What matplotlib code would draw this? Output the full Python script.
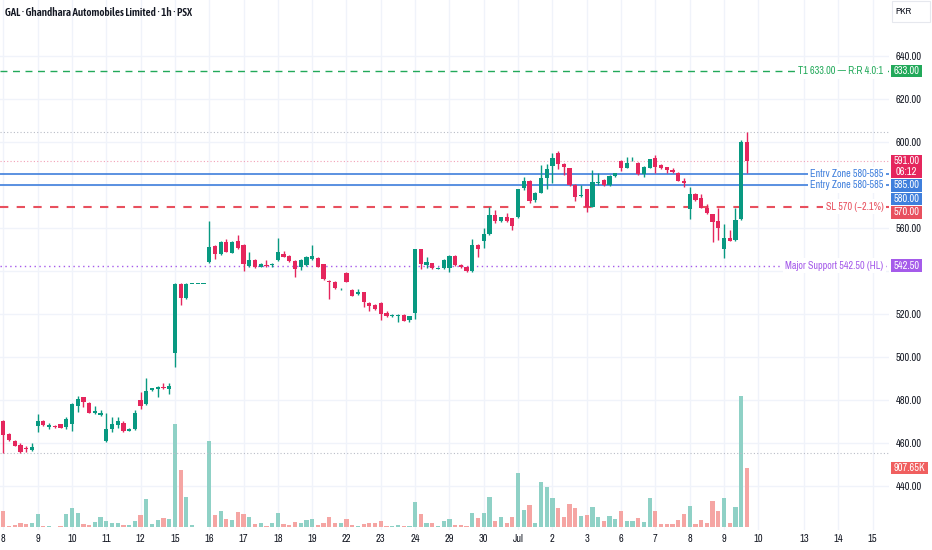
import numpy as np
import matplotlib.pyplot as plt
from matplotlib import transforms
from matplotlib.patches import Rectangle

plt.rcParams['font.family'] = ['Archivo Narrow', 'Liberation Sans Narrow', 'Liberation Sans', 'DejaVu Sans']

W, H = 932, 550

title = "GAL · Ghandhara Automobiles Limited · 1h · PSX"

# trading days shown (6 hourly bars each), plus future dates on the time scale
day_labels = ["8", "9", "10", "11", "12", "15", "16", "17", "18", "19", "22", "23",
              "24", "29", "30", "Jul", "2", "3", "6", "7", "8", "9"]
future_labels = ["10", "13", "14", "15"]
future_pos = [132, 140, 146, 152]
bars_per_day = 6

opens = [
    470.0, 464.0, 461.1, 459.0, 457.5, 456.7,
    468.0, 470.0, 467.5, 468.0, 468.8, 467.5,
    469.0, 477.2, 481.2, 478.8, 474.1, 473.0,
    460.9, 466.5, 468.5, 469.5, 465.8, 466.4,
    480.0, 478.0, 484.5, 485.0, 486.2, 485.2,
    501.7, 534.0, 527.3, 534.0, 534.0, 534.0,
    544.0, 551.8, 547.8, 553.6, 548.5, 554.0,
    552.1, 542.5, 545.1, 542.0, 543.0, 542.7,
    545.1, 547.8, 547.1, 544.7, 542.0, 542.8,
    545.6, 546.2, 543.1, 535.5, 535.0, 531.4,
    539.2, 531.2, 529.2, 530.1, 525.2, 524.2,
    525.2, 520.3, 519.0, 519.0, 519.5, 517.2,
    520.3, 550.1, 542.8, 543.6, 541.0, 541.3,
    541.6, 547.0, 542.8, 542.0, 540.0, 552.1,
    554.1, 557.1, 566.0, 563.3, 565.0, 564.5,
    565.0, 578.5, 582.0, 573.0, 576.4, 583.1,
    588.8, 595.0, 589.8, 587.8, 580.0, 575.0,
    578.0, 570.0, 581.0, 582.3, 580.0, 584.2,
    591.2, 588.0, 591.4, 590.4, 585.0, 588.0,
    592.4, 589.3, 588.2, 587.0, 585.7, 581.9,
    568.8, 575.8, 574.1, 569.4, 566.4, 563.3,
    550.1, 555.2, 554.4, 564.0, 600.1,
]
highs = [
    470.5, 464.5, 461.5, 460.0, 458.5, 460.0,
    473.3, 470.5, 469.5, 468.5, 469.0, 472.3,
    478.5, 481.9, 481.5, 479.0, 477.4, 475.3,
    474.1, 472.3, 472.3, 470.0, 466.8, 475.3,
    483.9, 490.2, 485.8, 486.5, 487.8, 487.8,
    534.5, 534.2, 534.2, 534.0, 534.0, 534.0,
    563.3, 552.2, 553.8, 554.9, 554.0, 556.7,
    552.5, 548.7, 545.5, 543.5, 545.0, 543.8,
    555.2, 549.5, 547.4, 545.0, 545.4, 546.8,
    552.1, 546.5, 543.4, 536.0, 535.3, 532.3,
    539.5, 531.5, 531.5, 530.4, 525.5, 524.5,
    525.5, 521.5, 519.8, 519.8, 519.8, 519.3,
    550.4, 550.4, 546.6, 543.9, 541.8, 545.4,
    547.4, 547.3, 543.1, 542.3, 554.7, 552.4,
    559.9, 569.9, 568.6, 565.3, 567.2, 564.8,
    578.3, 583.6, 582.3, 576.9, 589.3, 589.8,
    595.0, 596.0, 590.1, 588.1, 580.3, 580.0,
    578.3, 587.0, 585.4, 582.6, 584.6, 585.7,
    591.5, 593.2, 593.2, 590.7, 588.8, 592.3,
    594.0, 589.6, 588.5, 588.0, 586.0, 583.1,
    579.2, 576.1, 576.0, 571.0, 566.7, 569.2,
    561.7, 559.1, 569.2, 600.9, 604.5,
]
lows = [
    455.5, 461.0, 458.5, 455.5, 456.0, 456.5,
    465.1, 467.8, 466.5, 466.8, 466.8, 466.4,
    465.4, 474.6, 476.9, 473.8, 473.6, 472.5,
    460.5, 465.3, 467.0, 465.3, 465.5, 466.0,
    475.7, 477.5, 484.2, 481.3, 485.3, 482.8,
    495.5, 524.2, 527.0, 534.0, 534.0, 534.0,
    543.5, 545.6, 547.5, 548.7, 548.2, 550.3,
    540.1, 542.0, 541.6, 541.7, 542.0, 542.0,
    544.8, 546.3, 544.4, 537.3, 540.5, 542.5,
    545.3, 541.7, 536.0, 526.8, 531.7, 531.0,
    534.7, 528.2, 529.0, 523.4, 521.4, 522.0,
    517.2, 518.8, 518.7, 516.4, 516.6, 516.3,
    517.5, 541.0, 541.3, 541.0, 540.7, 541.0,
    539.7, 542.5, 541.4, 539.7, 539.7, 546.6,
    550.6, 556.8, 562.5, 563.0, 563.0, 559.1,
    564.7, 577.8, 571.5, 571.9, 576.1, 578.0,
    580.8, 587.3, 584.7, 579.7, 572.7, 574.4,
    567.3, 569.7, 580.0, 579.7, 579.7, 583.9,
    586.5, 587.7, 591.0, 584.7, 583.9, 587.7,
    585.4, 587.5, 585.5, 585.6, 581.7, 579.2,
    564.2, 572.7, 569.1, 566.5, 553.3, 554.4,
    545.9, 553.8, 554.1, 563.7, 585.4,
]
closes = [
    463.7, 461.5, 458.7, 456.0, 457.3, 458.3,
    470.0, 468.5, 468.5, 467.3, 467.0, 471.2,
    478.0, 480.3, 479.2, 474.1, 475.0, 473.8,
    466.4, 468.8, 470.0, 465.6, 466.5, 474.1,
    477.2, 484.2, 485.5, 486.2, 485.8, 486.5,
    534.0, 527.3, 534.0, 534.0, 534.0, 534.0,
    551.3, 547.8, 553.3, 549.0, 553.6, 550.6,
    543.1, 545.1, 542.0, 543.1, 542.3, 543.0,
    548.7, 546.7, 544.7, 540.9, 545.1, 546.4,
    547.0, 542.0, 536.3, 535.0, 532.0, 531.8,
    535.0, 528.5, 530.1, 525.7, 523.9, 522.3,
    519.9, 519.0, 519.5, 519.5, 516.9, 519.0,
    550.1, 543.3, 544.3, 541.3, 541.5, 545.1,
    547.1, 542.8, 541.7, 540.0, 552.1, 550.1,
    557.1, 566.0, 563.3, 565.0, 563.3, 560.9,
    578.0, 582.0, 572.6, 576.1, 583.1, 587.3,
    592.4, 589.8, 588.2, 580.0, 574.6, 575.5,
    570.0, 581.3, 581.6, 580.0, 584.3, 585.4,
    587.8, 590.4, 591.8, 585.0, 588.5, 592.0,
    588.5, 587.8, 587.0, 585.9, 582.0, 581.1,
    575.8, 573.0, 569.4, 566.8, 562.9, 559.9,
    555.2, 554.1, 563.7, 600.1, 591.0,
]
# volume in thousands of shares
volume_k = [
    251, 20, 31, 57, 46, 66,
    205, 20, 11, 5, 20, 205,
    297, 220, 46, 31, 77, 149,
    97, 66, 66, 31, 31, 97,
    185, 426, 46, 108, 138, 128,
    1584, 877, 457, 31, 5, 5,
    1323, 185, 251, 128, 108, 235,
    195, 158, 46, 66, 20, 66,
    215, 46, 31, 77, 66, 108,
    128, 31, 66, 149, 57, 57,
    118, 31, 20, 46, 66, 57,
    97, 20, 11, 31, 11, 20,
    389, 195, 66, 66, 20, 97,
    128, 31, 31, 20, 215, 138,
    215, 466, 97, 149, 66, 158,
    826, 257, 338, 62, 687, 611,
    446, 292, 158, 354, 292, 174,
    185, 303, 158, 88, 174, 123,
    251, 97, 97, 138, 77, 446,
    251, 46, 46, 46, 108, 195,
    323, 46, 108, 66, 395, 251,
    446, 66, 312, 2015, 907.65,
]

# trade plan levels
t1_price = 633.0
entry_zone = [585.0, 580.0]
stop_price = 570.0
support_price = 542.5
countdown = "06:12"

# colours
UP = "#089981"
DOWN = "#e5265d"
VOL_UP = "#8fd1c6"
VOL_DOWN = "#f5a5a3"
GREEN = "#22a95a"
BLUE = "#3f7fdc"
RED = "#e8505e"
PURPLE = "#a55bea"
GRID = "#f0f3fa"
TXT = "#131722"
FS = 7.5

o = np.array(opens)
c = np.array(closes)
x = np.arange(len(o))
up = c >= o
cand_col = np.where(up, UP, DOWN)
vol_col = np.where(up, VOL_UP, VOL_DOWN)

fig = plt.figure(figsize=(W / 100, H / 100), dpi=100)
ax = fig.add_axes([0, 20 / H, 889 / W, 530 / H])
vax = ax.twinx()
ax.set_zorder(vax.get_zorder() + 1)
ax.patch.set_visible(False)

ax.set_xlim(-0.58, 154.85)
ax.set_ylim(419.53, 666.05)
vax.set_ylim(-46, 8105)

# grid (drawn on the lower axes so it stays behind the volume)
day_pos = [i * bars_per_day for i in range(len(day_labels))] + future_pos
grid_prices = np.arange(440, 641, 20)
price_tr = transforms.blended_transform_factory(vax.transAxes, ax.transData)
for gx in day_pos:
    vax.axvline(gx, color=GRID, lw=1, zorder=0)
for gp in grid_prices:
    vax.plot([0, 1], [gp, gp], color=GRID, lw=1, transform=price_tr, zorder=0)

# volume
vax.bar(x, volume_k, width=0.74, color=vol_col, zorder=2)

# candles
body_lo = np.minimum(o, c)
body_h = np.maximum(np.abs(c - o), 0.45)
ax.vlines(x, lows, highs, colors=cand_col, lw=1, zorder=3)
ax.bar(x, body_h, bottom=body_lo, width=0.74, color=cand_col, lw=0, zorder=4)

# range high / low and last price
ax.axhline(max(highs), color="#b8bcc6", lw=0.8, ls=(0, (1, 2)), zorder=1)
ax.axhline(min(lows), color="#b8bcc6", lw=0.8, ls=(0, (1, 2)), zorder=1)
ax.axhline(closes[-1], color="#f3a0b6", lw=0.8, ls=(0, (1, 2)), zorder=1)

# trade plan lines
entry_mid = np.mean(entry_zone)
rr = (t1_price - entry_mid) / (entry_mid - stop_price)
sl_pct = (stop_price / entry_mid - 1) * 100
ax.axhline(t1_price, color=GREEN, lw=1, ls=(0, (5, 4)), zorder=2)
for e in entry_zone:
    ax.axhline(e, color=BLUE, lw=1.2, zorder=2)
ax.axhline(stop_price, color=RED, lw=1.5, ls=(0, (4, 4)), zorder=2)
ax.axhline(support_price, color=PURPLE, lw=1, ls=(0, (1, 2.5)), zorder=2)

line_texts = [
    (t1_price, f"T1 {t1_price:.2f} — R:R {rr:.1f}:1", GREEN),
    (entry_zone[0], f"Entry Zone {entry_zone[1]:.0f}-{entry_zone[0]:.0f}", BLUE),
    (entry_zone[1], f"Entry Zone {entry_zone[1]:.0f}-{entry_zone[0]:.0f}", BLUE),
    (stop_price, f"SL {stop_price:.0f} ({sl_pct:.1f}%)".replace("-", "−"), RED),
    (support_price, f"Major Support {support_price:.2f} (HL)", PURPLE),
]
for p, s, col in line_texts:
    ax.annotate(s, xy=(1, p), xycoords=price_tr, xytext=(-4, 0),
                textcoords="offset points", ha="right", va="center",
                fontsize=7.3, color=col, zorder=6,
                bbox=dict(boxstyle="square,pad=0.25", fc="white", ec="none"))

# axes styling
for a in (ax, vax):
    for sp in a.spines.values():
        sp.set_visible(False)
vax.set_yticks([])
ax.yaxis.tick_right()
# 580 and 540 sit under the level tags on the price scale
hidden = (580, 540)
ax.set_yticks(grid_prices, ["" if v in hidden else f"{v:.2f}" for v in grid_prices])
ax.tick_params(axis="y", length=0, pad=4.5, labelsize=FS, labelcolor=TXT)
ax.set_xticks(day_pos, day_labels + future_labels)
ax.tick_params(axis="x", length=0, pad=3, labelsize=FS, labelcolor=TXT)
for lab in ax.get_xticklabels():
    if lab.get_text() == "Jul":
        lab.set_fontweight("bold")
for lab in ax.get_yticklabels():
    if lab.get_text() == "600.00":
        lab.set_fontweight("bold")

# price scale labels, stacked so they don't overlap
scale_labels = [
    (t1_price, [f"{t1_price:.2f}"], GREEN),
    (closes[-1], [f"{closes[-1]:.2f}", countdown], DOWN),
    (entry_zone[0], [f"{entry_zone[0]:.2f}"], BLUE),
    (entry_zone[1], [f"{entry_zone[1]:.2f}"], BLUE),
    (stop_price, [f"{stop_price:.2f}"], RED),
    (support_price, [f"{support_price:.2f}"], PURPLE),
]
line_h = 12.5
box_x0, box_w = 891, 31
prev_bottom = None
for p, lines, col in scale_labels:
    yc = ax.transData.transform((0, p))[1]
    top = yc + line_h / 2
    if prev_bottom is not None and top > prev_bottom - 1:
        top = prev_bottom - 1
    h = line_h + 10.5 * (len(lines) - 1)
    bottom = top - h
    fig.add_artist(Rectangle((box_x0 / W, bottom / H), box_w / W, h / H,
                             transform=fig.transFigure, color=col, lw=0, zorder=10))
    for k, s in enumerate(lines):
        fig.text((box_x0 + box_w / 2) / W, (top - line_h / 2 - 10.5 * k) / H, s,
                 ha="center", va="center", fontsize=FS, color="white", zorder=11)
    prev_bottom = bottom

# volume label
vy = vax.transData.transform((0, volume_k[-1]))[1]
fig.add_artist(Rectangle((box_x0 / W, (vy - 6) / H), 37 / W, 12 / H,
                         transform=fig.transFigure, color="#f05f5f", lw=0, zorder=10))
fig.text((box_x0 + 18.5) / W, vy / H, f"{volume_k[-1]:.2f}K", ha="center",
         va="center", fontsize=FS, color="white", zorder=11)

fig.text(5 / W, 1 - 13 / H, title, fontsize=7.9, fontweight=600, color=TXT, va="center",
         family=["Asap Condensed", "Archivo Narrow", "Liberation Sans", "DejaVu Sans"])

# currency button
fig.add_artist(Rectangle((892 / W, 1 - 22 / H), 38 / W, 21 / H, transform=fig.transFigure,
                         fc="white", ec="#e6e8ee", lw=0.8, zorder=10))
fig.text(895 / W, 1 - 12 / H, "PKR", ha="left", va="center", fontsize=7, color=TXT, zorder=11)

fig.savefig("out.png", dpi=100)
